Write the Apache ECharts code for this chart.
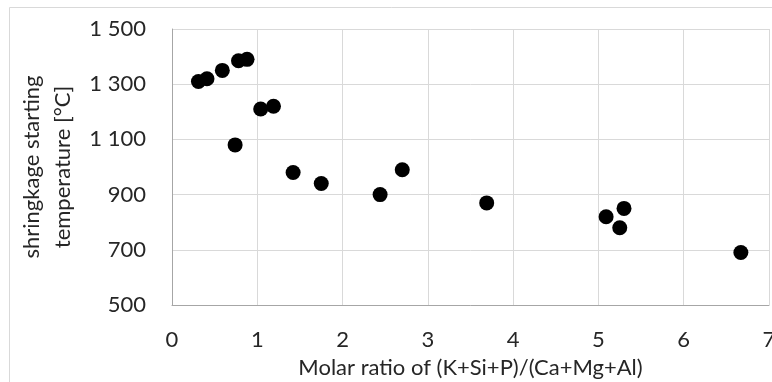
<!DOCTYPE html>
<html>
<head>
<meta charset="utf-8">
<script src="https://cdn.jsdelivr.net/npm/echarts@6/dist/echarts.min.js"></script>
<style>
  html, body { margin: 0; padding: 0; background: #fff; }
  #chart { width: 772px; height: 382px; }
</style>
</head>
<body>
<div id="chart"></div>
<script>
// molar ratio (K+Si+P)/(Ca+Mg+Al)
const ratio = [0.31, 0.41, 0.59, 0.78, 0.88, 0.74, 1.04, 1.19, 1.42, 1.75, 2.44, 2.70, 3.69, 5.09, 5.30, 5.25, 6.67];
// shrinkage starting temperature [°C]
const temp = [1310, 1320, 1350, 1385, 1390, 1080, 1210, 1220, 980, 940, 900, 990, 870, 820, 850, 780, 690];

const xTicks = { min: 0, max: 7, step: 1 };
const yTicks = { min: 500, max: 1500, step: 200 };

const points = ratio.map((r, i) => [r, temp[i]]);

const font = "Lato, 'Open Sans', sans-serif";
const textColor = "#262626";
const fontSize = 22;

const chart = echarts.init(document.getElementById("chart"), null, { renderer: "canvas" });

const option = {
  animation: false,
  backgroundColor: "#fff",
  grid: {
    left: 172,
    top: 29,
    right: 3,
    bottom: 77,
    containLabel: false,
    outerBoundsMode: "none",
  },
  xAxis: {
    type: "value",
    min: xTicks.min,
    max: xTicks.max,
    interval: xTicks.step,
    name: "Molar ratio of (K+Si+P)/(Ca+Mg+Al)",
    nameLocation: "middle",
    nameGap: 52,
    nameTextStyle: { fontFamily: font, fontSize: fontSize, color: textColor },
    axisLine: { show: true, lineStyle: { color: "#a6a6a6", width: 1 } },
    axisTick: { show: false },
    axisLabel: { fontFamily: font, fontSize: fontSize, color: textColor, margin: 24 },
    splitLine: { show: true, lineStyle: { color: "#d9d9d9", width: 1 } },
  },
  yAxis: {
    type: "value",
    min: yTicks.min,
    max: yTicks.max,
    interval: yTicks.step,
    axisLine: { show: true, lineStyle: { color: "#a6a6a6", width: 1 } },
    axisTick: { show: false },
    axisLabel: {
      fontFamily: font,
      fontSize: fontSize,
      color: textColor,
      margin: 26,
      formatter: (v) => v >= 1000 ? Math.floor(v / 1000) + " " + String(v % 1000).padStart(3, "0") : String(v),
    },
    splitLine: { show: true, lineStyle: { color: "#d9d9d9", width: 1 } },
  },
  graphic: [
    {
      type: "rect",
      shape: { x: 9.5, y: 7.5, width: 900, height: 500 },
      style: { fill: "none", stroke: "#d9d9d9", lineWidth: 1 },
      silent: true,
      z: -1,
    },
    {
      type: "text",
      x: 32,
      y: 167,
      rotation: Math.PI / 2,
      style: {
        text: "shringkage starting",
        font: fontSize + "px " + font,
        fill: textColor,
        align: "center",
        verticalAlign: "middle",
      },
    },
    {
      type: "text",
      x: 63,
      y: 167,
      rotation: Math.PI / 2,
      style: {
        text: "temperature [°C]",
        font: fontSize + "px " + font,
        fill: textColor,
        align: "center",
        verticalAlign: "middle",
      },
    },
  ],
  series: [
    {
      type: "scatter",
      data: points,
      symbol: "circle",
      symbolSize: 15,
      itemStyle: { color: "#000", opacity: 1 },
    },
  ],
};

chart.setOption(option);
</script>
</body>
</html>
